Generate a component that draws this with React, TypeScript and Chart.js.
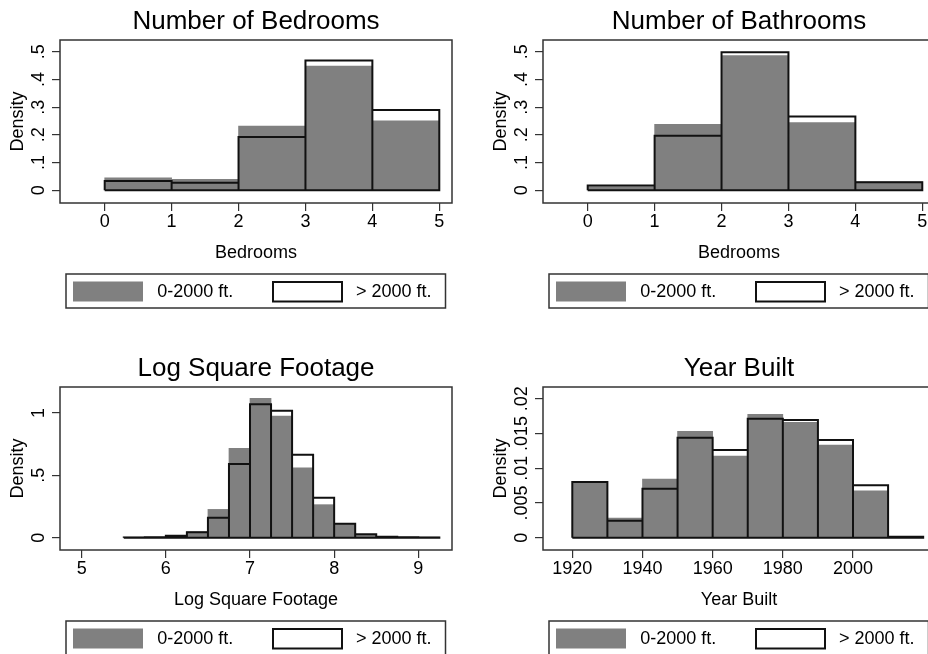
import React, { useEffect, useRef } from 'react';
import { Chart, registerables } from 'chart.js';

Chart.register(...registerables);

const FONT = "'Liberation Sans', Arial, Helvetica, sans-serif";
Chart.defaults.font.family = FONT;
Chart.defaults.color = '#000';

// ---------- data ----------
const LEGEND_LABELS = ['0-2000 ft.', '> 2000 ft.'];
const Y_TITLE = 'Density';

// Number of Bedrooms
const BED_EDGES = [0, 1, 2, 3, 4, 5];
const BED_SMALL = [0.045, 0.040, 0.232, 0.448, 0.251];
const BED_LARGE = [0.034, 0.027, 0.192, 0.468, 0.290];
const BED_XTICKS = [0, 1, 2, 3, 4, 5];
const BED_YTICKS = [0, 0.1, 0.2, 0.3, 0.4, 0.5];
const BED_YLABELS = ['0', '.1', '.2', '.3', '.4', '.5'];

// Number of Bathrooms
const BATH_EDGES = [0, 1, 2, 3, 4, 5];
const BATH_SMALL = [0.013, 0.238, 0.486, 0.244, 0.031];
const BATH_LARGE = [0.017, 0.197, 0.498, 0.266, 0.029];
const BATH_XTICKS = [0, 1, 2, 3, 4, 5];
const BATH_YTICKS = [0, 0.1, 0.2, 0.3, 0.4, 0.5];
const BATH_YLABELS = ['0', '.1', '.2', '.3', '.4', '.5'];

// Log Square Footage
const SQFT_EDGES = [5.5, 5.75, 6, 6.25, 6.5, 6.75, 7, 7.25, 7.5, 7.75, 8, 8.25, 8.5, 8.75, 9, 9.25];
const SQFT_SMALL = [0.002, 0.003, 0.010, 0.048, 0.227, 0.717, 1.118, 0.976, 0.561, 0.265, 0.107, 0.022, 0.010, 0.003, 0.002];
const SQFT_LARGE = [0.002, 0.003, 0.015, 0.043, 0.160, 0.591, 1.070, 1.019, 0.666, 0.321, 0.112, 0.028, 0.008, 0.003, 0.002];
const SQFT_XTICKS = [5, 6, 7, 8, 9];
const SQFT_YTICKS = [0, 0.5, 1];
const SQFT_YLABELS = ['0', '.5', '1'];

// Year Built
const YEAR_EDGES = [1920, 1930, 1940, 1950, 1960, 1970, 1980, 1990, 2000, 2010, 2020];
const YEAR_SMALL = [0.0080, 0.00283, 0.00844, 0.0153, 0.01175, 0.01775, 0.0166, 0.01333, 0.00676, 0.0001];
const YEAR_LARGE = [0.0080, 0.00245, 0.00705, 0.01439, 0.01261, 0.01712, 0.01693, 0.01405, 0.00753, 0.00014];
const YEAR_XTICKS = [1920, 1940, 1960, 1980, 2000];
const YEAR_YTICKS = [0, 0.005, 0.01, 0.015, 0.02];
const YEAR_YLABELS = ['0', '.005', '.01', '.015', '.02'];

// ---------- styles / layout ----------
const GRAY = '#808080';
const FRAME = '#333333';
const OUTLINE = '#111111';
const SMALL_FONT = 18;
const TITLE_FONT = 26;
const PANEL_W = 464;
const PANEL_H = 327;

type Spec = {
  title: string;
  xTitle: string;
  edges: number[];
  small: number[];
  large: number[];
  xTicks: number[];
  yTicks: number[];
  yLabels: string[];
  xMin: number;
  xMax: number;
  yMin: number;
  yMax: number;
  yTickPad: number;
};

const PANELS: { spec: Spec; left: number; top: number }[] = [
  {
    left: 0, top: 0,
    spec: {
      title: 'Number of Bedrooms', xTitle: 'Bedrooms',
      edges: BED_EDGES, small: BED_SMALL, large: BED_LARGE,
      xTicks: BED_XTICKS, yTicks: BED_YTICKS, yLabels: BED_YLABELS,
      xMin: -0.668, xMax: 5.19, yMin: -0.0458, yMax: 0.5422, yTickPad: 5.3,
    },
  },
  {
    left: 483, top: 0,
    spec: {
      title: 'Number of Bathrooms', xTitle: 'Bedrooms',
      edges: BATH_EDGES, small: BATH_SMALL, large: BATH_LARGE,
      xTicks: BATH_XTICKS, yTicks: BATH_YTICKS, yLabels: BATH_YLABELS,
      xMin: -0.668, xMax: 5.19, yMin: -0.0458, yMax: 0.5422, yTickPad: 5.3,
    },
  },
  {
    left: 0, top: 347,
    spec: {
      title: 'Log Square Footage', xTitle: 'Log Square Footage',
      edges: SQFT_EDGES, small: SQFT_SMALL, large: SQFT_LARGE,
      xTicks: SQFT_XTICKS, yTicks: SQFT_YTICKS, yLabels: SQFT_YLABELS,
      xMin: 4.742, xMax: 9.4005, yMin: -0.0986, yMax: 1.2085, yTickPad: 5.3,
    },
  },
  {
    left: 483, top: 347,
    spec: {
      title: 'Year Built', xTitle: 'Year Built',
      edges: YEAR_EDGES, small: YEAR_SMALL, large: YEAR_LARGE,
      xTicks: YEAR_XTICKS, yTicks: YEAR_YTICKS, yLabels: YEAR_YLABELS,
      xMin: 1911.65, xMax: 2023.37, yMin: -0.00177, yMax: 0.021683, yTickPad: -4.7,
    },
  },
];

const framePlugin = {
  id: 'plotFrame',
  afterDatasetsDraw(chart: any) {
    const { ctx, chartArea: a } = chart;
    ctx.save();
    ctx.strokeStyle = FRAME;
    ctx.lineWidth = 1.5;
    ctx.strokeRect(a.left, a.top, a.right - a.left, a.bottom - a.top);
    ctx.restore();
  },
};

const boxLegendPlugin = {
  id: 'boxLegend',
  afterDraw(chart: any) {
    const { ctx, chartArea: a } = chart;
    const x0 = a.left;
    const y0 = a.bottom;
    ctx.save();
    // outer box
    ctx.strokeStyle = FRAME;
    ctx.lineWidth = 1.5;
    ctx.strokeRect(x0 + 6, y0 + 71, 379.5, 34);
    // swatch 1
    ctx.fillStyle = GRAY;
    ctx.fillRect(x0 + 13, y0 + 78.5, 70, 20);
    // swatch 2
    ctx.fillStyle = '#fff';
    ctx.fillRect(x0 + 213, y0 + 79, 69, 19.5);
    ctx.strokeStyle = OUTLINE;
    ctx.lineWidth = 2;
    ctx.strokeRect(x0 + 213, y0 + 79, 69, 19.5);
    // labels
    ctx.fillStyle = '#000';
    ctx.font = `${SMALL_FONT}px ${FONT}`;
    ctx.textBaseline = 'middle';
    ctx.textAlign = 'left';
    const labels = chart.data.datasets.map((d: any) => d.label);
    ctx.fillText(labels[0], x0 + 97.3, y0 + 89);
    ctx.fillText(labels[1], x0 + 296, y0 + 89);
    ctx.restore();
  },
};

function Panel({ spec, left, top }: { spec: Spec; left: number; top: number }) {
  const ref = useRef<HTMLCanvasElement>(null);

  useEffect(() => {
    const centers = spec.small.map((_, i) => (spec.edges[i] + spec.edges[i + 1]) / 2);
    const outline: { x: number; y: number }[] = [];
    spec.large.forEach((h, i) => {
      const a = spec.edges[i];
      const b = spec.edges[i + 1];
      outline.push({ x: a, y: 0 }, { x: a, y: h }, { x: b, y: h }, { x: b, y: 0 });
    });
    outline.push({ x: spec.edges[0], y: 0 });

    const tickFont = { size: SMALL_FONT, family: FONT };
    const grid = {
      drawOnChartArea: false,
      drawTicks: true,
      tickLength: 8,
      color: FRAME,
      lineWidth: 1.2,
      offset: false,
    };

    const chart = new Chart(ref.current as HTMLCanvasElement, {
      type: 'bar',
      data: {
        datasets: [
          {
            type: 'bar',
            label: LEGEND_LABELS[0],
            data: centers.map((x, i) => ({ x, y: spec.small[i] })),
            backgroundColor: GRAY,
            borderWidth: 0,
            barPercentage: 1,
            categoryPercentage: 1,
            order: 2,
          } as any,
          {
            type: 'line',
            label: LEGEND_LABELS[1],
            data: outline,
            borderColor: OUTLINE,
            borderWidth: 2,
            borderJoinStyle: 'miter',
            pointRadius: 0,
            fill: false,
            tension: 0,
            order: 1,
          } as any,
        ],
      },
      options: {
        animation: false,
        responsive: false,
        devicePixelRatio: 1,
        events: [],
        layout: { padding: { left: 0, right: 12, top: 0, bottom: 57 } },
        plugins: {
          legend: { display: false },
          tooltip: { enabled: false },
          title: {
            display: true,
            text: spec.title,
            fullSize: false,
            color: '#000',
            font: { size: TITLE_FONT, weight: 'normal', family: FONT },
            padding: { top: 5.9, bottom: 2.9 },
          },
        },
        scales: {
          x: {
            type: 'linear',
            min: spec.xMin,
            max: spec.xMax,
            offset: false,
            grid,
            border: { display: false },
            ticks: {
              autoSkip: false,
              minRotation: 0,
              maxRotation: 0,
              padding: 0.4,
              color: '#000',
              font: tickFont,
              callback: (v: any) => String(v),
            },
            afterBuildTicks: (s: any) => {
              s.ticks = spec.xTicks.map((v) => ({ value: v }));
            },
            afterFit: (s: any) => {
              s.height = 67;
            },
            title: {
              display: true,
              text: spec.xTitle,
              color: '#000',
              font: tickFont,
              padding: { top: 0, bottom: 6.4 },
            },
          },
          y: {
            type: 'linear',
            min: spec.yMin,
            max: spec.yMax,
            grid,
            border: { display: false },
            ticks: {
              autoSkip: false,
              minRotation: 90,
              maxRotation: 90,
              crossAlign: 'center',
              padding: spec.yTickPad,
              color: '#000',
              font: tickFont,
              callback: (v: any) => {
                const k = spec.yTicks.indexOf(v);
                return k >= 0 ? spec.yLabels[k] : '';
              },
            },
            afterBuildTicks: (s: any) => {
              s.ticks = spec.yTicks.map((v) => ({ value: v }));
            },
            afterFit: (s: any) => {
              s.width = 60;
            },
            title: {
              display: true,
              text: Y_TITLE,
              color: '#000',
              font: tickFont,
              padding: { top: 7.7, bottom: 0 },
            },
          },
        },
      } as any,
      plugins: [framePlugin, boxLegendPlugin],
    });
    return () => chart.destroy();
  }, [spec]);

  return (
    <canvas
      ref={ref}
      width={PANEL_W}
      height={PANEL_H}
      style={{ position: 'absolute', left, top, width: PANEL_W, height: PANEL_H }}
    />
  );
}

export default function App() {
  return (
    <div
      style={{
        position: 'fixed',
        left: 0,
        top: 0,
        width: 928,
        height: 654,
        overflow: 'hidden',
        background: '#fff',
      }}
    >
      {PANELS.map((p, i) => (
        <Panel key={i} spec={p.spec} left={p.left} top={p.top} />
      ))}
    </div>
  );
}
